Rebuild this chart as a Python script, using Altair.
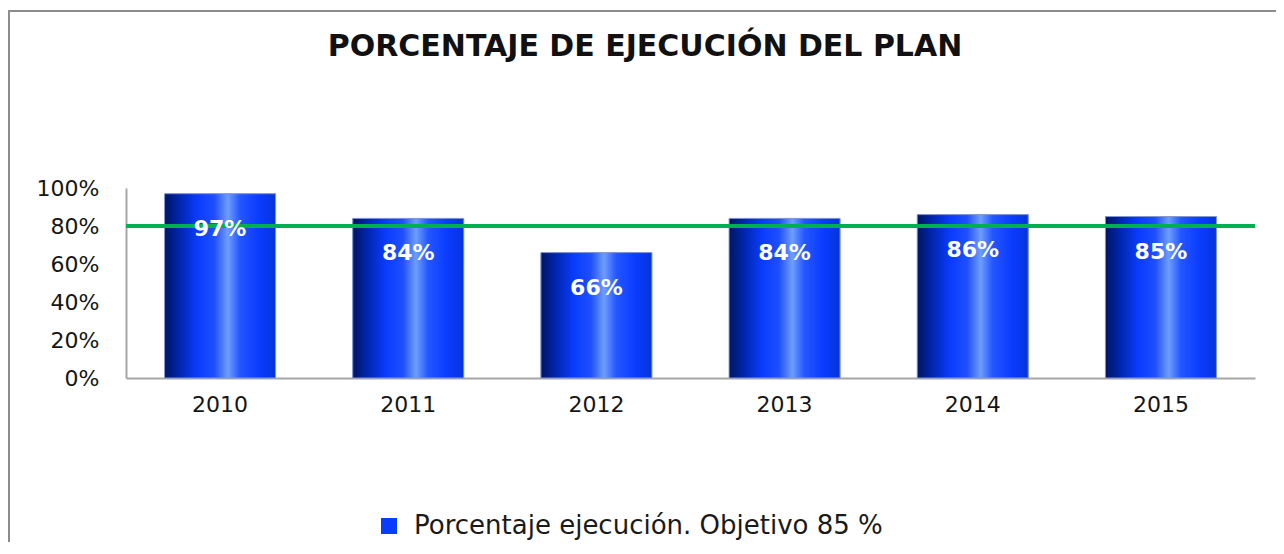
import altair as alt
import pandas as pd

years = ["2010", "2011", "2012", "2013", "2014", "2015"]
values = [0.97, 0.84, 0.66, 0.84, 0.86, 0.85]
labels = ["97%", "84%", "66%", "84%", "86%", "85%"]
target = 0.80
series_name = "Porcentaje ejecución. Objetivo 85 %"
title_text = "PORCENTAJE DE EJECUCIÓN DEL PLAN"
y_ticks = [0, 0.2, 0.4, 0.6, 0.8, 1.0]

df = pd.DataFrame({"year": years, "value": values, "label": labels, "serie": [series_name] * len(years)})

W, H = 1129, 190

x_axis = alt.Axis(labelAngle=0, ticks=False, labelPadding=16, labelFont="DejaVu Sans",
                  labelFontSize=22, labelColor="#151515", domainColor="#a6a6a6", domainWidth=2)
y_axis = alt.Axis(values=y_ticks, format=".0%", ticks=False, grid=False, labelPadding=27,
                  labelOverlap=False, labelFlush=False,
                  labelFont="DejaVu Sans", labelFontSize=22, labelColor="#151515",
                  domainColor="#a6a6a6", domainWidth=2)
x_scale = alt.Scale(paddingInner=0.41, paddingOuter=0.205)
y_scale = alt.Scale(domain=[0, 1])

x_enc = alt.X("year:N", sort=years, title=None, scale=x_scale, axis=x_axis)
y_enc = alt.Y("value:Q", title=None, scale=y_scale, axis=y_axis)

base = alt.Chart(df)

frame = base.mark_rect(fillOpacity=0, stroke="#8c8c8c", strokeWidth=2).encode(
    x=alt.value(-117), x2=alt.value(1400), y=alt.value(-177), y2=alt.value(700)
)

title = alt.Chart(pd.DataFrame({"t": [title_text]})).mark_text(
    font="DejaVu Sans", fontSize=30, fontWeight="bold", color="#111111",
    align="center", baseline="alphabetic"
).encode(x=alt.value(519), y=alt.value(-132), text="t:N")

legend_bars = base.mark_bar().encode(
    x=x_enc, y=y_enc,
    color=alt.Color("serie:N", title=None,
                    scale=alt.Scale(range=["#0a3cff"]),
                    legend=alt.Legend(orient="none", legendX=250, legendY=325, direction="horizontal",
                                      symbolType="square", symbolSize=256, symbolStrokeWidth=0,
                                      labelFont="DejaVu Sans", labelFontSize=26, labelColor="#1a1a1a",
                                      labelLimit=0, labelOffset=12, padding=0))
)

grad = alt.Gradient(
    gradient="linear", x1=0, x2=1, y1=0, y2=0,
    stops=[
        alt.GradientStop(offset=0.0, color="#001560"),
        alt.GradientStop(offset=0.12, color="#0024a8"),
        alt.GradientStop(offset=0.30, color="#0a3cff"),
        alt.GradientStop(offset=0.45, color="#1e4fff"),
        alt.GradientStop(offset=0.57, color="#6e9dff"),
        alt.GradientStop(offset=0.68, color="#2456ff"),
        alt.GradientStop(offset=0.85, color="#0a3cff"),
        alt.GradientStop(offset=1.0, color="#0634d8"),
    ],
)

bars = base.mark_bar(color=grad, stroke="#8597d6", strokeWidth=1).encode(x=x_enc, y=y_enc)

rule = alt.Chart(pd.DataFrame({"objetivo": [target]})).mark_rule(
    color="#00b050", strokeWidth=4
).encode(y=alt.Y("objetivo:Q", title=None, scale=y_scale, axis=y_axis))

text = base.mark_text(color="white", fontWeight="bold", font="DejaVu Sans", fontSize=22,
                      baseline="middle", dy=35).encode(
    x=x_enc, y=y_enc, text="label:N"
)

chart = alt.layer(frame, title, legend_bars, bars, rule, text).properties(
    width=W, height=H,
    autosize="none",
    padding={"left": 118, "top": 180, "right": 21, "bottom": 164},
    background="white",
).configure_view(strokeWidth=0).configure_axisY(labelOverlap=False)

chart.save("out.html", embed_options={"renderer": "svg", "actions": False})
